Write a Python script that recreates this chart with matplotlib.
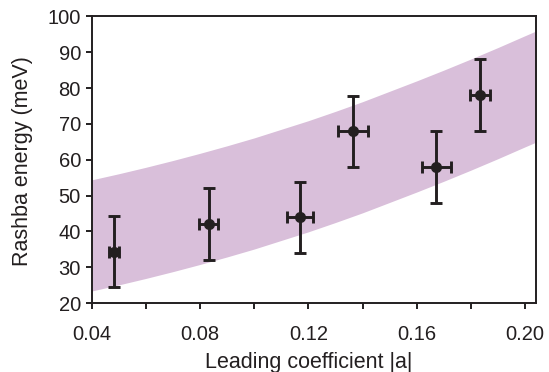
import numpy as np
import matplotlib
matplotlib.use("Agg")
import matplotlib.pyplot as plt
from matplotlib.ticker import MultipleLocator

plt.rcParams['font.family'] = ['Liberation Sans', 'DejaVu Sans']

# measured points
coef = [0.0483, 0.0833, 0.1170, 0.1365, 0.1673, 0.1833]
coef_err = [0.0018, 0.0035, 0.0049, 0.0055, 0.0052, 0.0037]
energy = [34.4, 42.0, 43.9, 67.9, 57.9, 78.1]
energy_err = [10, 10, 10, 10, 10, 10]

# shaded band (edges)
band_x = [0.040, 0.050, 0.060, 0.070, 0.080, 0.090, 0.100, 0.110, 0.120,
          0.130, 0.140, 0.150, 0.160, 0.170, 0.180, 0.190, 0.200, 0.204]
band_hi = [54.4, 56.1, 57.9, 59.8, 61.8, 63.9, 66.1, 68.5, 70.9,
           73.5, 76.2, 79.1, 82.0, 85.0, 88.1, 91.3, 94.6, 95.9]
band_lo = [23.4, 25.1, 26.9, 28.8, 30.8, 32.9, 35.1, 37.5, 39.9,
           42.5, 45.2, 48.1, 51.0, 54.0, 57.1, 60.3, 63.6, 64.9]

ink = '#231f20'

fig = plt.figure(figsize=(5.49, 3.72), dpi=100)
ax = fig.add_axes([0.167, 0.185, 0.809, 0.771])

ax.fill_between(band_x, band_lo, band_hi, color='#d9bfda', lw=0)
ax.errorbar(coef, energy, xerr=coef_err, yerr=energy_err, fmt='o',
            color=ink, ms=7, elinewidth=2.1, capsize=4.4, capthick=2.1)

ax.set_xlim(0.04, 0.204)
ax.set_ylim(20, 100)
ax.xaxis.set_major_locator(MultipleLocator(0.04))
ax.xaxis.set_minor_locator(MultipleLocator(0.02))
ax.yaxis.set_major_locator(MultipleLocator(10))
ax.xaxis.set_major_formatter(plt.FuncFormatter(lambda v, p: '%.2f' % v))

for s in ax.spines.values():
    s.set_linewidth(1.4)
    s.set_color(ink)
ax.tick_params(which='both', direction='out', width=1.4, length=4,
               color=ink, labelsize=14.5, labelcolor=ink)
ax.tick_params(axis='x', which='both', pad=12)
ax.tick_params(axis='y', pad=3.7)

ax.set_xlabel('Leading coefficient |a|', fontsize=15.5, color=ink)
ax.set_ylabel('Rashba energy (meV)', fontsize=15.5, color=ink)
ax.xaxis.set_label_coords(0.489, -0.169)
ax.yaxis.set_label_coords(-0.133, 0.494)

fig.savefig('out.png', dpi=100)
